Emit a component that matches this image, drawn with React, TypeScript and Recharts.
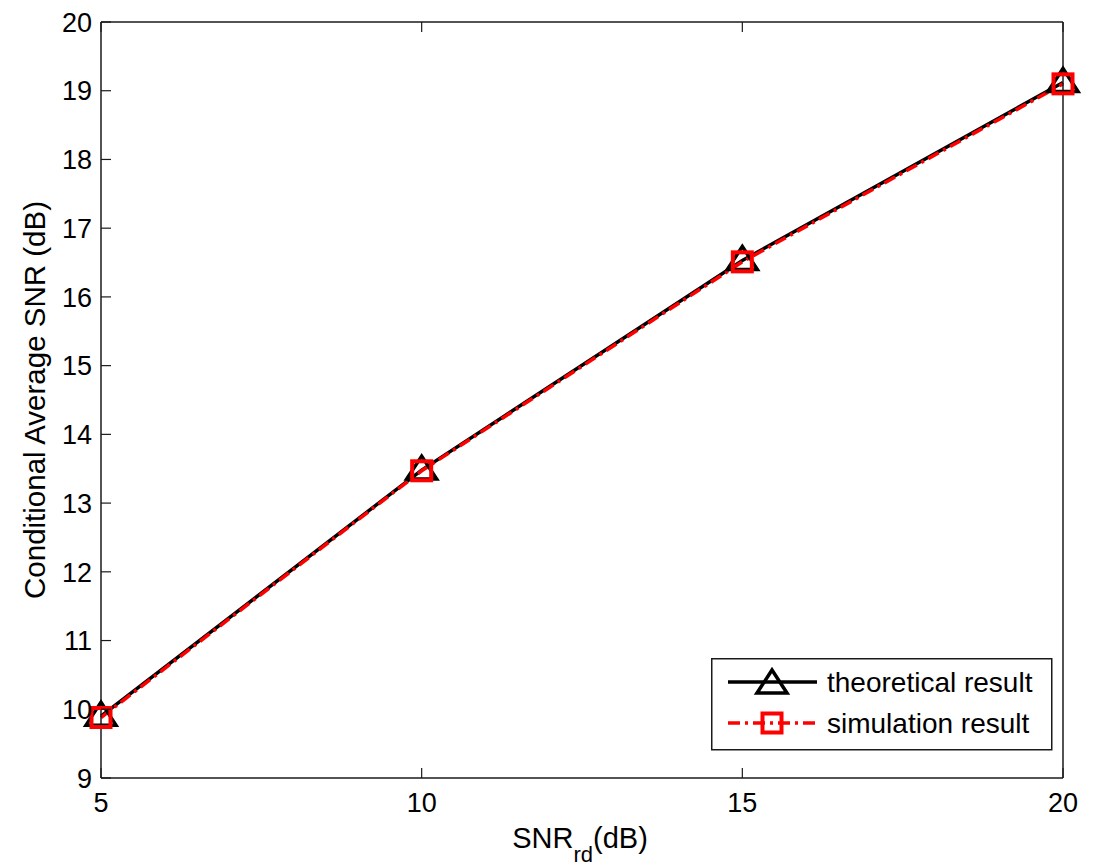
import React from "react";
import { LineChart, Line, XAxis, YAxis } from "recharts";

const snrRd = [5, 10, 15, 20];
const theoretical = [9.9, 13.48, 16.53, 19.12];
const simulation = [9.88, 13.47, 16.51, 19.1];
const xTicks = [5, 10, 15, 20];
const yTicks = [9, 10, 11, 12, 13, 14, 15, 16, 17, 18, 19, 20];

const data = snrRd.map((x, i) => ({ x, theory: theoretical[i], sim: simulation[i] }));

const FONT = '"Liberation Sans", Arial, Helvetica, sans-serif';
const AXIS = "#1a1a1a";

const LeftTick = (p: any) => (
  <g>
    <line x1={p.x} x2={p.x + 10} y1={p.y} y2={p.y} stroke={AXIS} strokeWidth={1.2} />
    <text x={p.x - 9} y={p.y} dy="0.36em" textAnchor="end" fontSize={27} fontFamily={FONT} fill="#000">
      {p.payload.value}
    </text>
  </g>
);
const RightTick = (p: any) => (
  <line x1={p.x} x2={p.x - 10} y1={p.y} y2={p.y} stroke={AXIS} strokeWidth={1.2} />
);
const BottomTick = (p: any) => (
  <g>
    <line x1={p.x} x2={p.x} y1={p.y} y2={p.y - 10} stroke={AXIS} strokeWidth={1.2} />
    <text x={p.x} y={p.y + 34} textAnchor="middle" fontSize={27} fontFamily={FONT} fill="#000">
      {p.payload.value}
    </text>
  </g>
);
const TopTick = (p: any) => (
  <line x1={p.x} x2={p.x} y1={p.y} y2={p.y + 10} stroke={AXIS} strokeWidth={1.2} />
);

// MATLAB '^' marker sits a little above its data point
const Triangle = ({ cx, cy }: { cx: number; cy: number }) => (
  <polygon
    points={`${cx},${cy - 14} ${cx - 15},${cy + 9} ${cx + 15},${cy + 9}`}
    fill="none"
    stroke="#000"
    strokeWidth={3.5}
    strokeLinejoin="miter"
  />
);
const Square = ({ cx, cy }: { cx: number; cy: number }) => (
  <rect x={cx - 9.5} y={cy - 9.5} width={19} height={19} fill="none" stroke="#ff0000" strokeWidth={4} />
);

const LegendBox = () => (
  <svg width={342} height={93} style={{ display: "block" }}>
    <rect x={0.75} y={0.75} width={340} height={91} fill="#fff" stroke={AXIS} strokeWidth={1.5} />
    <line x1={17} x2={106} y1={24} y2={24} stroke="#000" strokeWidth={3.5} />
    <Triangle cx={61} cy={26} />
    <text x={116} y={24} dy="0.36em" fontSize={28} fontFamily={FONT} fill="#000">theoretical result</text>
    <line x1={17} x2={106} y1={65} y2={65} stroke="#ff0000" strokeWidth={3.5} strokeDasharray="12 5 3 5" />
    <Square cx={61} cy={65} />
    <text x={116} y={65} dy="0.36em" fontSize={28} fontFamily={FONT} fill="#000">simulation result</text>
  </svg>
);

export default function App() {
  return (
    <div style={{ position: "absolute", left: 0, top: 0, width: 1095, height: 868, background: "#fff" }}>
      <LineChart
        width={1095}
        height={868}
        data={data}
        margin={{ top: 21, right: 31, left: 100, bottom: 89 }}
      >
        <XAxis
          dataKey="x"
          type="number"
          domain={[5, 20]}
          ticks={xTicks}
          height={1}
          tickSize={0}
          tickMargin={0}
          tickLine={false}
          tick={<BottomTick />}
          axisLine={{ stroke: AXIS, strokeWidth: 1.5 }}
          interval={0}
        />
        <XAxis
          xAxisId="t"
          orientation="top"
          dataKey="x"
          type="number"
          domain={[5, 20]}
          ticks={xTicks}
          height={1}
          tickSize={0}
          tickMargin={0}
          tickLine={false}
          tick={<TopTick />}
          axisLine={{ stroke: AXIS, strokeWidth: 1.5 }}
          interval={0}
        />
        <YAxis
          type="number"
          domain={[9, 20]}
          ticks={yTicks}
          width={1}
          tickSize={0}
          tickMargin={0}
          tickLine={false}
          tick={<LeftTick />}
          axisLine={{ stroke: AXIS, strokeWidth: 1.5 }}
          interval={0}
        />
        <YAxis
          yAxisId="r"
          orientation="right"
          type="number"
          domain={[9, 20]}
          ticks={yTicks}
          width={1}
          tickSize={0}
          tickMargin={0}
          tickLine={false}
          tick={<RightTick />}
          axisLine={{ stroke: AXIS, strokeWidth: 1.5 }}
          interval={0}
        />
        <Line
          dataKey="theory"
          stroke="#000"
          strokeWidth={3.5}
          dot={(p: any) => <Triangle key={`t${p.index}`} cx={p.cx} cy={p.cy} />}
          isAnimationActive={false}
        />
        <Line
          dataKey="sim"
          stroke="#ff0000"
          strokeWidth={3.5}
          strokeDasharray="12 5 3 5"
          dot={(p: any) => <Square key={`s${p.index}`} cx={p.cx} cy={p.cy} />}
          isAnimationActive={false}
        />
        <text
          transform="translate(45,400) rotate(-90)"
          textAnchor="middle"
          fontSize={29.5}
          fontFamily={FONT}
          fill="#000"
        >
          Conditional Average SNR (dB)
        </text>
        <text x={580} y={848} textAnchor="middle" fontSize={29} fontFamily={FONT} fill="#000">
          SNR
          <tspan fontSize={22} dy={14}>rd</tspan>
          <tspan dy={-14}>(dB)</tspan>
        </text>
      </LineChart>
      <div style={{ position: "absolute", left: 711, top: 658 }}>
        <LegendBox />
      </div>
    </div>
  );
}
